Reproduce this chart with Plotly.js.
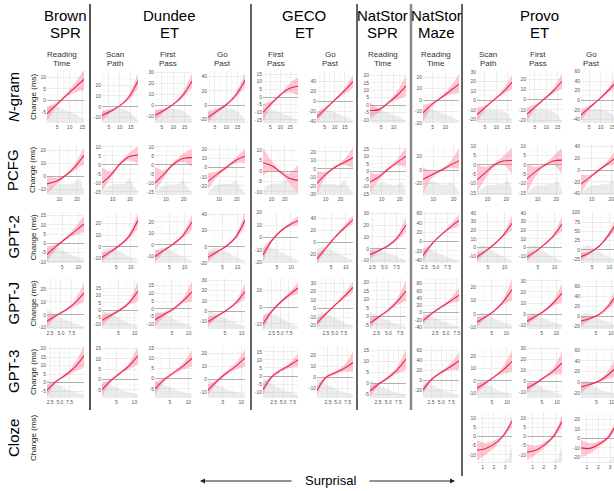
<!DOCTYPE html>
<html><head><meta charset="utf-8">
<script src="https://cdn.plot.ly/plotly-3.0.1.min.js"></script>
<style>html,body{margin:0;padding:0;overflow:hidden;background:#fff;width:614px;height:491px}#chart{width:622px;height:491px}</style>
</head><body><div id="chart"></div>
<script>
// ---------------- DATA ----------------
const groupNames = ['Brown', 'Dundee', 'GECO', 'NatStor', 'NatStor', 'Provo'];
const groupTypes = ['SPR', 'ET', 'ET', 'SPR', 'Maze', 'ET'];
const measureTop = ['Reading', 'Scan', 'First', 'Go', 'First', 'Go', 'Reading', 'Reading', 'Scan', 'First', 'Go'];
const measureBottom = ['Time', 'Path', 'Pass', 'Past', 'Pass', 'Past', 'Time', 'Time', 'Path', 'Pass', 'Past'];
const rowLabels = ['<i>N</i>-gram', 'PCFG', 'GPT-2', 'GPT-J', 'GPT-3', 'Cloze'];
const yTitle = 'Change (ms)';
const xTitle = 'Surprisal';
const allColumns = [0,1,2,3,4,5,6,7,8,9,10];
const clozeColumns = [8,9,10];

// N-gram row
const ngramX = [[1,15.7],[1.9,18.3],[1.9,18.3],[1.9,18.3],[1.3,19],[1.3,19],[0.5,15],[1.2,15.4],[1.5,17],[1.5,17],[1.5,17]];
const ngramFit = [[-5.5,-1.8,1.9,5.5,9],[-8,-4,1,9,24],[-9,-4.5,1,9,22],[-17,-8,1,14,35],[-10,-4,1.5,5.5,7],[-31,-14,3,20,39],[-3.5,-3,1.5,6.5,13],[-11,-3.5,2,8,14],[-15,-7,1,9,19],[-14,-6.5,1,8.5,18],[-30,-14,2,20,40]];
const ngramLow = [[-8.5,-2.8,1.2,3.5,4.5],[-13,-5.5,0.3,6.5,17],[-14,-6,0.2,6.5,16],[-24,-11,-1,10,26],[-16,-5.5,0.7,3,1],[-40,-18,1,14,27],[-9,-5,0.5,3.5,6],[-19,-6,1,5,6],[-23,-9,0,6.5,12],[-21,-8.5,0,6,11],[-42,-18,0,16,28]];
const ngramHigh = [[-2.5,-0.9,2.7,7.5,13],[-3.5,-2.5,1.7,11.5,31],[-4,-3,1.8,11.5,29],[-10,-5,3,18,45],[-4.5,-2.5,2.3,8.5,13],[-22,-10,5,25,52],[2,-1.5,2.5,9.5,20],[-4,-2,3.5,11,23],[-8,-5,2,12,27],[-7,-4.5,2,11,26],[-18,-10,4,25,55]];
const ngramDensity = [[0.3,0.33,0.3,0.25,0.2,0.15,0.08],[0.2,0.27,0.29,0.29,0.25,0.17,0.05],[0.22,0.27,0.28,0.28,0.26,0.2,0.06],[0.25,0.28,0.3,0.3,0.27,0.2,0.06],[0.2,0.26,0.25,0.2,0.15,0.1,0.05],[0.22,0.26,0.24,0.2,0.15,0.1,0.05],[0.25,0.27,0.24,0.2,0.15,0.1,0.05],[0.25,0.28,0.25,0.2,0.15,0.1,0.05],[0.15,0.24,0.25,0.25,0.24,0.2,0.05],[0.15,0.25,0.26,0.26,0.24,0.18,0.04],[0.15,0.25,0.27,0.27,0.25,0.18,0.05]];
const ngramYRange = [[-9.5,12.6],[-15,33],[-16,31],[-25,48],[-17,17],[-43,60],[-12,23],[-20,25.5],[-24,31],[-22.7,28],[-47,61]];
const ngramYTicks = [[-5,0,5,10],[-10,0,10,20],[-10,0,10,20,30],[-20,0,20,40],[-15,-10,-5,0,5,10,15],[-40,-20,0,20,40],[-10,-5,0,5,10,15,20],[-20,-10,0,10,20],[-20,-10,0,10,20,30],[-20,-10,0,10,20],[-40,-20,0,20,40,60]];
const ngramXTicks = [[5,10,15],[5,10,15],[5,10,15],[5,10,15],[5,10,15],[5,10,15],[5,10],[5,10],[5,10,15],[5,10,15],[5,10,15]];

// PCFG row
const pcfgX = [[3,24],[3.8,24.6],[3.8,24.6],[3.8,24.6],[3.5,30],[4,28.5],[3.5,23.5],[5,22.5],[4.5,23],[4.5,23],[4.5,23]];
const pcfgFit = [[-6,-4,0.5,7,16],[-10,-5.5,0.5,4.5,5.5],[-10,-5,0.5,3.5,4],[-15,-7,0.5,8,13],[4,2.5,-0.5,-3.5,-4.5],[-17,-6,2,7.5,13],[-7,-3.5,1.5,6,10],[-14,-7,-0.5,7,14],[-8,-4,0,2,2.3],[-7.5,-3.5,-0.3,2,2.5],[-24,-12,0,11,23]];
const pcfgLow = [[-14,-6.5,-0.5,4.5,9],[-15,-7,-0.5,2.5,0.5],[-15,-7,-0.5,1.5,-1],[-24,-10,-1.5,5,5],[-2,0,-1.2,-6,-11],[-30,-9,0.5,4.5,1],[-14,-5.5,0.5,4,3],[-35,-12,-2.5,3,2],[-15,-7,-1,0,-5],[-15,-6,-1,0,-5],[-40,-16,-2,7,10]];
const pcfgHigh = [[0,-1.5,1.5,9.5,22],[-1.5,-3.5,1.5,6.5,10.5],[-1,-3,1.5,6,9],[-6,-4,2.5,11,21],[11,5,0.2,-1,3],[-3,-3,3.5,11,25],[-0.5,-1.5,2.5,8,16],[5,-2,1.5,12,33],[0,-1,1,4.5,9],[0.5,-1,0.5,4.5,9],[-8,-8,2,16,38]];
const pcfgDensity = [[0.03,0.18,0.22,0.22,0.22,0.22,0.24,0.33,0.05],[0.02,0.15,0.2,0.22,0.22,0.22,0.33,0.18,0.08],[0.02,0.15,0.2,0.21,0.21,0.22,0.3,0.15,0.05],[0.02,0.15,0.2,0.22,0.22,0.22,0.3,0.15,0.05],[0.05,0.2,0.22,0.24,0.22,0.3,0.22,0.12,0.05],[0.05,0.2,0.22,0.22,0.22,0.2,0.3,0.15,0.05],[0.05,0.2,0.25,0.25,0.22,0.2,0.2,0.25,0.05],[0.05,0.25,0.27,0.25,0.22,0.2,0.24,0.2,0.05],[0.05,0.12,0.18,0.2,0.2,0.22,0.22,0.3,0.1],[0.05,0.12,0.18,0.2,0.2,0.22,0.22,0.29,0.1],[0.05,0.12,0.18,0.2,0.2,0.22,0.22,0.3,0.1]];
const pcfgYRange = [[-14.6,24],[-16.7,11],[-16.7,11],[-30,25],[-11.5,12.5],[-30.5,28],[-15.5,17.5],[-37.5,37.5],[-16,10.5],[-16,10.5],[-42.5,42.5]];
const pcfgYTicks = [[-10,0,10,20],[-15,-10,-5,0,5,10],[-15,-10,-5,0,5,10],[-20,-10,0,10,20],[-10,-5,0,5,10],[-30,-20,-10,0,10,20],[-15,-10,-5,0,5,10,15],[-20,0,20],[-15,-10,-5,0,5,10],[-15,-10,-5,0,5,10],[-40,-20,0,20,40]];
const pcfgXTicks = [[10,20],[10,20],[10,20],[10,20],[10,20],[10,20],[10,20],[10,20],[10,20],[10,20],[10,20]];

// GPT-2 row
const gpt2X = [[0.3,11.8],[0.2,12.5],[0.2,12.5],[0.2,12.5],[0.1,12.5],[0.1,12.5],[2,9.5],[2.2,10],[1.8,12.2],[1.8,12.2],[1.8,12.2]];
const gpt2Fit = [[-6,-1.5,2.5,6.5,10.5],[-9,-4,1.5,9,23],[-10,-4.5,1,8,20],[-13,-6,1,12,33],[-14,-2.5,5,10,13.5],[-27,-9,9,24,38],[-5,-1.5,2.5,9,20],[-30,-5,14,30,45],[-11,-4,4,14,28],[-11,-4.5,3.5,13,27],[-18,-7,10,38,75]];
const gpt2Low = [[-10,-3,1.7,4.5,6],[-13,-5.5,0.5,7,16],[-15,-6,0,6,13],[-19,-8,0,9,25],[-20,-4,4,8.5,10],[-35,-12,7,21,30],[-9,-2.5,1.5,7,14],[-42,-8,12,25,32],[-16,-5.5,3,12,20],[-16,-6,2.5,11,19],[-28,-11,7,32,55]];
const gpt2High = [[-1.5,-0.5,3.3,8.5,15],[-5,-2.5,2.5,11,30],[-5,-3,2,10,27],[-7,-4,2.5,15,43],[-8,-1,6,11.5,17],[-19,-6,11,28,46],[-1,-0.5,3.5,11,27],[-18,-2,16,35,58],[-6,-2.5,5,16.5,37],[-6,-3,4.5,15,36],[-8,-3,13,45,95]];
const gpt2Density = [[0.25,0.32,0.28,0.22,0.16,0.12,0.07],[0.25,0.3,0.28,0.22,0.15,0.1,0.05],[0.25,0.3,0.28,0.22,0.15,0.1,0.05],[0.25,0.3,0.28,0.22,0.15,0.1,0.05],[0.28,0.32,0.28,0.22,0.16,0.1,0.06],[0.28,0.32,0.28,0.22,0.16,0.1,0.06],[0.3,0.3,0.25,0.2,0.15,0.1,0.05],[0.3,0.28,0.22,0.17,0.12,0.08,0.05],[0.28,0.35,0.3,0.22,0.15,0.1,0.05],[0.28,0.35,0.3,0.22,0.15,0.1,0.05],[0.28,0.35,0.3,0.22,0.15,0.1,0.05]];
const gpt2YRange = [[-10.6,17],[-14,30],[-15.7,28.7],[-20,43],[-20.5,20.5],[-34,51],[-12,31],[-46,63],[-18,41],[-18,41],[-35,102]];
const gpt2YTicks = [[-10,-5,0,5,10,15],[-10,0,10,20],[-10,0,10,20],[-20,0,20,40],[-20,-10,0,10,20],[-20,0,20,40],[-10,0,10,20,30],[-40,-20,0,20,40,60],[-10,0,10,20,30,40],[-10,0,10,20,30,40],[-25,0,25,50,75,100]];
const gpt2XTicks = [[5,10],[5,10],[5,10],[5,10],[5,10],[5,10],[2.5,5,7.5],[2.5,5,7.5],[5,10],[5,10],[5,10]];

// GPT-J row
const gptjX = [[1.8,10.3],[0,11],[0,11],[0,11],[0,10.1],[0,10.1],[1.1,8.75],[-0.3,8],[0,12],[0,12],[0,12]];
const gptjFit = [[-5,-0.5,3.5,9,17],[-7,-3.5,0,5,13],[-7,-3.5,0,5,11],[-10,-4.5,1,8,19],[-10,-2.5,3,7.5,11.5],[-17,-6,4,14,25],[-4,-0.3,3.5,8.5,15],[-22,-2,15,31,48],[-6,-2,2.5,9,18],[-6.5,-2,3,10,19],[-9,-4,4,20,45]];
const gptjLow = [[-10,-1.5,2.5,6.5,10],[-11,-5,-1,3.5,6],[-11,-5,-1,3.5,5],[-15,-6,0,6,12],[-14,-3.5,2,6,8],[-22,-8,3,11,19],[-7,-1,2.5,6.5,9],[-32,-6,12,25,30],[-10,-3,1.5,7,10],[-11,-3.5,2,7.5,11],[-20,-7,2,14,30]];
const gptjHigh = [[0,0.5,4.5,11.5,25],[-3,-2,1,6.5,20],[-3,-2,1,6.5,18],[-5,-3,2,10,27],[-5.5,-1.5,4,9,15],[-12,-4,5,17,32],[-1,0.5,4.5,10.5,21],[-12,2,18,37,68],[-2,-1,3.5,11,26],[-2,-0.5,4,12.5,28],[2,-1,6,26,62]];
const gptjDensity = [[0.38,0.3,0.24,0.18,0.13,0.09,0.05],[0.36,0.32,0.26,0.2,0.14,0.09,0.05],[0.36,0.32,0.26,0.2,0.14,0.09,0.05],[0.36,0.32,0.26,0.2,0.14,0.09,0.05],[0.3,0.32,0.27,0.22,0.16,0.1,0.05],[0.3,0.32,0.27,0.22,0.16,0.1,0.05],[0.32,0.28,0.22,0.17,0.12,0.08,0.05],[0.32,0.28,0.22,0.17,0.12,0.08,0.05],[0.28,0.32,0.28,0.2,0.15,0.12,0.08],[0.28,0.32,0.28,0.2,0.15,0.12,0.08],[0.28,0.32,0.28,0.2,0.15,0.12,0.08]];
const gptjYRange = [[-11,28.5],[-13,22],[-13,20],[-17,32],[-13,17.5],[-24,36],[-7.5,22.5],[-45,95],[-11,26.5],[-13.6,32.7],[-25,77]];
const gptjYTicks = [[-10,0,10,20],[-10,-5,0,5,10,15],[-10,-5,0,5,10,15],[-10,0,10,20,30],[-10,0,10],[-20,-10,0,10,20,30],[-5,0,5,10,15,20],[-40,-20,0,20,40,60,80],[-10,0,10,20],[-10,0,10,20,30],[-20,0,20,40,60]];
const gptjXTicks = [[2.5,5,7.5],[5,10],[5,10],[5,10],[2.5,5,7.5],[2.5,5,7.5],[2.5,5,7.5],[2.5,5,7.5],[5,10],[5,10],[5,10]];

// GPT-3 row
const gpt3X = [[1.7,11.2],[1,11],[1,11],[1,11],[-0.3,8.9],[-0.3,8.9],[0.5,9.4],[0.5,9.4],[0,11.7],[0,11.7],[0,11.7]];
const gpt3Fit = [[-4.5,0.8,4.5,9,16],[-5,-0.5,3,6.5,11.5],[-5,-0.5,2.8,6,10],[-8,-1,5,10,16.5],[-8.5,-0.5,3.5,6.5,10],[-12,0,4,8,13.5],[-3.5,-0.2,2.5,6,11],[-20,2,15,26,38],[-6,-1.5,3.5,9,16],[-6.5,-2,3.5,9,16.5],[-8,-3,3,14,30]];
const gpt3Low = [[-8,0,3.5,6.5,9],[-8,-1.5,2.3,5,7],[-8,-1.5,2,4.5,6],[-12,-2.5,3.5,7.5,10],[-12,-1.5,2.5,5,6],[-16,-1.5,2.5,5,5],[-6,-1,1.7,4.5,6],[-28,-1,12,20,20],[-10,-3,2.5,6,7],[-11,-3.5,2.5,6,6],[-20,-6,0.5,7,12]];
const gpt3High = [[-1.5,1.6,5.5,11.5,22],[-2,0.5,3.8,8,16],[-2,0.5,3.6,7.5,14],[-4,0.5,6.5,12.5,23],[-4.5,0.5,4.5,8,14],[-8,1.5,5.5,11,23],[-1,0.5,3.3,7.5,15.5],[-12,5,18,32,56],[-2,0,4.5,12,25],[-2,-0.5,4.5,12,27],[2,0,5.5,21,52]];
const gpt3Density = [[0.35,0.3,0.24,0.18,0.14,0.1,0.07],[0.35,0.28,0.22,0.17,0.13,0.1,0.07],[0.35,0.28,0.22,0.17,0.13,0.1,0.07],[0.35,0.28,0.22,0.17,0.13,0.1,0.07],[0.4,0.3,0.24,0.18,0.13,0.1,0.06],[0.4,0.3,0.24,0.18,0.13,0.1,0.06],[0.35,0.28,0.22,0.17,0.12,0.09,0.06],[0.35,0.28,0.22,0.17,0.12,0.09,0.06],[0.3,0.33,0.25,0.18,0.13,0.1,0.06],[0.3,0.33,0.25,0.18,0.13,0.1,0.06],[0.3,0.33,0.25,0.18,0.13,0.1,0.06]];
const gpt3YRange = [[-9,21.6],[-9,16.2],[-9.5,16],[-14,25.5],[-13.7,18.7],[-18.8,28.5],[-6.7,17],[-36,68],[-14,28.5],[-15.5,32],[-28,67]];
const gpt3YTicks = [[-5,0,5,10,15,20],[-5,0,5,10,15],[-5,0,5,10,15],[-10,0,10,20],[-10,-5,0,5,10,15],[-10,0,10,20],[-5,0,5,10,15],[-20,0,20,40,60],[-10,0,10,20],[-10,0,10,20,30],[-20,0,20,40,60]];
const gpt3XTicks = [[2.5,5,7.5],[5,10],[5,10],[5,10],[2.5,5,7.5],[2.5,5,7.5],[2.5,5,7.5],[2.5,5,7.5],[5,10],[5,10],[5,10]];

// Cloze row (Provo only)
const clozeX = [[0.5,3.6],[0.5,3.6],[0.5,3.6]];
const clozeFit = [[-7.5,-6.5,-4,0.5,8.5],[-8.5,-7.5,-4.5,0,8.5],[-10,-10.5,-6,1,17]];
const clozeLow = [[-13,-10,-6,-0.5,5],[-13,-10,-6,-1,5],[-20,-16,-9,-1,10]];
const clozeHigh = [[-2,-3.5,-2,1.5,11],[-4,-5,-3,1,12],[-1,-5,-3,3,25]];
const clozeDensity = [[0.02,0.02,0.02,0.02,0.02,0.02,0.03,0.08,0.35],[0.02,0.02,0.02,0.02,0.02,0.02,0.03,0.08,0.35],[0.02,0.02,0.02,0.02,0.02,0.02,0.03,0.08,0.35]];
const clozeYRange = [[-14.5,13],[-14.5,13],[-26,27]];
const clozeYTicks = [[-15,-10,-5,0,5,10],[-15,-10,-5,0,5,10],[-20,-10,0,10,20]];
const clozeXTicks = [[1,2,3],[1,2,3],[1,2,3]];

// ---------------- LAYOUT GEOMETRY ----------------
const W = 622, H = 491;
const colPx = [[47,84],[102,138],[155,192],[208,245],[263,298],[317,353],[370,406],[423,459],[477,512],[527,562],[581,617]];
const rowPx = [[71,123],[145,195],[212,263],[278,329],[346,398],[413,463]];
const groupCenters = [65,169,304,383,436.5,539];
const measureCenters = [61.7,115.3,168.3,222.7,275.7,330,382.7,436,488.3,538.3,591.7];
const FONT = 'Liberation Sans, Arial, sans-serif';

const rowsData = [
  {cols: allColumns, xr: ngramX, fit: ngramFit, low: ngramLow, high: ngramHigh, dens: ngramDensity, yr: ngramYRange, yt: ngramYTicks, xt: ngramXTicks},
  {cols: allColumns, xr: pcfgX, fit: pcfgFit, low: pcfgLow, high: pcfgHigh, dens: pcfgDensity, yr: pcfgYRange, yt: pcfgYTicks, xt: pcfgXTicks},
  {cols: allColumns, xr: gpt2X, fit: gpt2Fit, low: gpt2Low, high: gpt2High, dens: gpt2Density, yr: gpt2YRange, yt: gpt2YTicks, xt: gpt2XTicks},
  {cols: allColumns, xr: gptjX, fit: gptjFit, low: gptjLow, high: gptjHigh, dens: gptjDensity, yr: gptjYRange, yt: gptjYTicks, xt: gptjXTicks},
  {cols: allColumns, xr: gpt3X, fit: gpt3Fit, low: gpt3Low, high: gpt3High, dens: gpt3Density, yr: gpt3YRange, yt: gpt3YTicks, xt: gpt3XTicks},
  {cols: clozeColumns, xr: clozeX, fit: clozeFit, low: clozeLow, high: clozeHigh, dens: clozeDensity, yr: clozeYRange, yt: clozeYTicks, xt: clozeXTicks}
];

function mids(t) {
  const out = [];
  for (let i = 0; i < t.length - 1; i++) out.push((t[i] + t[i+1]) / 2);
  if (t.length > 1) { const s = t[1]-t[0]; out.unshift(t[0]-s/2); out.push(t[t.length-1]+s/2); }
  return out;
}
function lin(a, b, n) { const o = []; for (let i = 0; i < n; i++) o.push(a + (b-a)*i/(n-1)); return o; }

const traces = [];
const layout = {
  width: W, height: H, margin: {l:0, r:0, t:0, b:0},
  paper_bgcolor: '#fff', plot_bgcolor: '#fff', showlegend: false,
  font: {family: FONT}, annotations: [], shapes: []
};

let k = 0;
rowsData.forEach((rd, r) => {
  rd.cols.forEach((c, j) => {
    k++;
    const sfx = k === 1 ? '' : String(k);
    const xa = 'x' + sfx, ya = 'y' + sfx;
    const [x0, x1] = rd.xr[j];
    const [y0, y1] = rd.yr[j];
    const fit = rd.fit[j];
    const xs = lin(x0, x1, fit.length);
    const d = rd.dens[j];
    const xd = lin(x0, x1, d.length);
    const yd = d.map(v => y0 + v * (y1 - y0));
    const common = {xaxis: xa, yaxis: ya, mode: 'lines', hoverinfo: 'skip', type: 'scatter'};
    traces.push(Object.assign({x: [x0, x1], y: [y0, y0], line: {width: 0, color: 'rgba(0,0,0,0)'}}, common));
    traces.push(Object.assign({x: xd, y: yd, fill: 'tonexty', fillcolor: 'rgba(175,175,175,0.24)', line: {width: 0, color: 'rgba(0,0,0,0)', shape: 'spline', smoothing: 0.6}}, common));
    traces.push(Object.assign({x: xs, y: rd.low[j], line: {width: 0, color: 'rgba(0,0,0,0)', shape: 'spline'}}, common));
    traces.push(Object.assign({x: xs, y: rd.high[j], fill: 'tonexty', fillcolor: 'rgba(255,90,125,0.33)', line: {width: 0, color: 'rgba(0,0,0,0)', shape: 'spline'}}, common));
    traces.push(Object.assign({x: xs, y: fit, line: {width: 1.1, color: '#e8234f', shape: 'spline'}}, common));

    const xt = rd.xt[j];
    const dec = xt.some(v => !Number.isInteger(v));
    layout['xaxis' + sfx] = {
      domain: [colPx[c][0] / W, colPx[c][1] / W], range: [x0, x1], anchor: ya,
      tickmode: 'array', tickvals: xt, ticktext: xt.map(v => dec ? v.toFixed(1) : String(v)), tickangle: 0,
      showgrid: true, gridcolor: '#e6e6e6', gridwidth: 0.7, zeroline: false, showline: false, ticks: '',
      tickfont: {size: 5, color: '#555', family: FONT}, fixedrange: true,
      minor: {tickmode: 'array', tickvals: mids(xt), showgrid: true, gridcolor: '#f3f3f3', gridwidth: 0.5}
    };
    const yt = rd.yt[j];
    layout['yaxis' + sfx] = {
      domain: [1 - rowPx[r][1] / H, 1 - rowPx[r][0] / H], range: [y0, y1], anchor: xa,
      tickmode: 'array', tickvals: yt, ticktext: yt.map(String), tickangle: 0,
      showgrid: true, gridcolor: '#e6e6e6', gridwidth: 0.7, zeroline: true, zerolinecolor: '#b0b0b0', zerolinewidth: 1,
      showline: false, ticks: '', tickfont: {size: 5, color: '#555', family: FONT}, fixedrange: true,
      minor: {tickmode: 'array', tickvals: mids(yt), showgrid: true, gridcolor: '#f3f3f3', gridwidth: 0.5}
    };
  });
});

const A = layout.annotations;
function txt(px, py, text, size, color, angle) {
  A.push({xref: 'paper', yref: 'paper', x: px / W, y: 1 - py / H, text: text, showarrow: false,
    xanchor: 'center', yanchor: 'middle', textangle: angle || 0, font: {family: FONT, size: size, color: color}});
}
groupNames.forEach((g, i) => { txt(groupCenters[i], 15, g, 15, '#000'); txt(groupCenters[i], 32, groupTypes[i], 15, '#000'); });
measureTop.forEach((m, i) => { txt(measureCenters[i], 54.5, m, 8, '#333'); txt(measureCenters[i], 63.5, measureBottom[i], 8, '#333'); });
rowLabels.forEach((lab, r) => {
  const cy = (rowPx[r][0] + rowPx[r][1]) / 2;
  txt(13, cy, lab, 15, '#000', -90);
  txt(33, cy, yTitle, 8, '#222', -90);
});
txt(330, 480.5, xTitle, 13, '#000');
A.push({xref: 'paper', yref: 'paper', x: 200 / W, y: 1 - 481 / H, ax: 93, ay: 0, text: '', showarrow: true,
  arrowhead: 2, arrowsize: 1, arrowwidth: 1, arrowcolor: '#222'});
A.push({xref: 'paper', yref: 'paper', x: 455 / W, y: 1 - 481 / H, ax: -87, ay: 0, text: '', showarrow: true,
  arrowhead: 2, arrowsize: 1, arrowwidth: 1, arrowcolor: '#222'});

// Group separators
const seps = [[90, 410, '#555', 2], [251, 410, '#111', 1.3], [357, 410, '#111', 1.3], [411, 410, '#888', 2.5], [462, 476, '#111', 1.3]];
seps.forEach(s => layout.shapes.push({type: 'line', xref: 'paper', yref: 'paper', x0: s[0] / W, x1: s[0] / W,
  y0: 1 - 4 / H, y1: 1 - s[1] / H, line: {color: s[2], width: s[3]}}));

Plotly.newPlot('chart', traces, layout, {staticPlot: true, displayModeBar: false});
</script></body></html>
